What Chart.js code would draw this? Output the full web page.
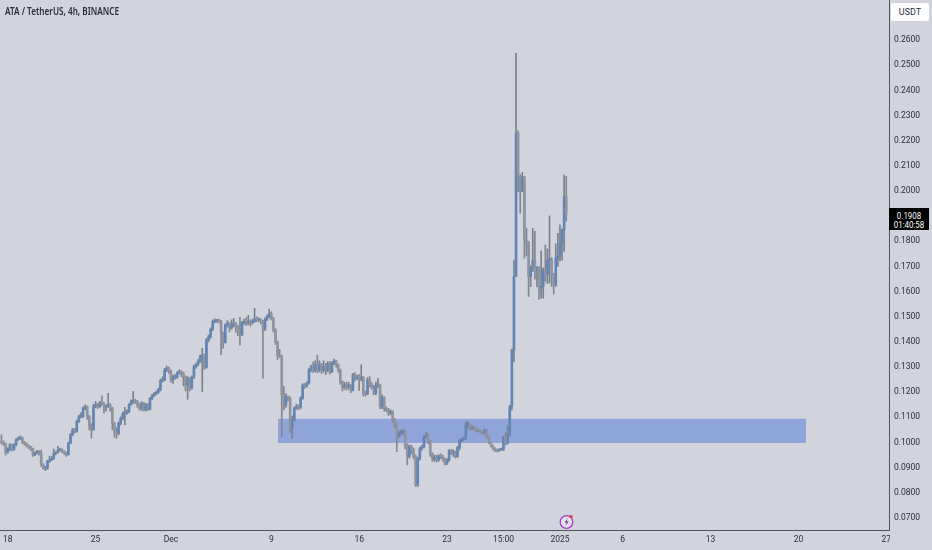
<!DOCTYPE html>
<html>
<head>
<meta charset="utf-8">
<title>ATA / TetherUS</title>
<script src="https://cdn.jsdelivr.net/npm/chart.js@4"></script>
<style>
  html, body { margin: 0; padding: 0; background: #d1d4dc; }
  #wrap { position: relative; width: 932px; height: 550px; overflow: hidden; font-family: Roboto, sans-serif; color: #131722; }
  #wrap div { position: absolute; white-space: nowrap; }
  #title { left: 5px; top: 4px; font-family: "Noto Sans", sans-serif; font-size: 10px; font-weight: 600; transform-origin: left top; transform: scaleX(0.82); color: #2a2e39; }
  #unit { left: 891px; top: 3px; width: 38px; height: 18px; line-height: 18px; background: #fff; border-radius: 2px; text-align: center; font-size: 9px; color: #2a2e39; }
  #tag { left: 889px; top: 208px; width: 40px; height: 22px; background: #000; color: #fff; }
  #tag div { left: 0; width: 40px; font-size: 9.5px; line-height: 9px; text-align: center; transform: scaleX(0.83); }
  #corner { left: 890px; top: 531px; width: 42px; height: 19px; background: #d1d4dc; }
  #bolt { position: absolute; left: 558px; top: 513px; }
</style>
</head>
<body>
<div id="wrap">
  <canvas id="chart" width="932" height="550"></canvas>
  <div id="corner"></div>
  <div id="title">ATA / TetherUS, 4h, BINANCE</div>
  <div id="unit">USDT</div>
  <div id="tag"><div style="top:2.5px">0.1908</div><div style="top:11.5px">01:40:58</div></div>
  <svg id="bolt" width="18" height="18" viewBox="0 0 18 18">
    <circle cx="8.5" cy="9" r="6.3" fill="#e4e0ea" stroke="#a93cc4" stroke-width="1.3"/>
    <path d="M9.6 5.2 L6.6 9.4 L8.5 9.4 L7.5 12.8 L10.6 8.4 L8.6 8.4 Z" fill="#7b2c8f"/>
    <circle cx="13" cy="3.6" r="1.7" fill="#f23645"/>
  </svg>
</div>
<script>
// 4h candles, first one sits three bars left of Nov 18
const firstIndex = -3;
const firstOpen = 0.1005;

const closes = [
  .1000, .0995, .0960, .0974, .0991, .0971, .0991, .1011, .1017, .1020,
  .1000, .0995, .0987, .0982, .0974, .0951, .0958, .0964, .0958, .0911,
  .0898, .0898, .0925, .0931, .0938, .0958, .0960, .0971, .0971, .0964,
  .0958, .0951, .0998, .1031, .1051, .1044, .1084, .1103, .1103, .1137,
  .1143, .1103, .1070, .1051, .1143, .1150, .1143, .1157, .1154, .1141,
  .1143, .1150, .1137, .1077, .1044, .1037, .1077, .1097, .1117, .1117,
  .1123, .1150, .1163, .1166, .1163, .1150, .1133, .1157, .1130, .1150,
  .1133, .1176, .1186, .1194, .1199, .1210, .1247, .1249, .1289, .1296,
  .1282, .1249, .1260, .1260, .1276, .1282, .1276, .1260, .1229, .1256,
  .1216, .1260, .1302, .1309, .1322, .1342, .1349, .1299, .1408, .1421,
  .1451, .1481, .1485, .1485, .1481, .1435, .1398, .1468, .1475, .1455,
  .1468, .1475, .1461, .1448, .1428, .1475, .1481, .1475, .1481, .1477,
  .1481, .1494, .1488, .1488, .1481, .1451, .1490, .1501, .1512, .1494,
  .1448, .1400, .1345, .1342, .1189, .1150, .1183, .1176, .1057, .1090,
  .1136, .1143, .1140, .1176, .1229, .1225, .1236, .1289, .1302, .1286,
  .1309, .1286, .1309, .1286, .1302, .1286, .1315, .1282, .1315, .1325,
  .1309, .1289, .1242, .1220, .1229, .1220, .1229, .1207, .1269, .1256,
  .1260, .1252, .1260, .1196, .1193, .1249, .1229, .1220, .1196, .1225,
  .1229, .1143, .1180, .1136, .1130, .1117, .1123, .1090, .1074, .1024,
  .1037, .1040, .1044, .0991, .0944, .0984, .0973, .0944, .0832, .0938,
  .0977, .0984, .1024, .1030, .1004, .0955, .0934, .0942, .0931, .0947,
  .0944, .0934, .0918, .0931, .0968, .0960, .0964, .0944, .0979, .1008,
  .1011, .1017, .1070, .1070, .1057, .1061, .1057, .1050, .1048, .1044,
  .1040, .1050, .1024, .1000, .0987, .0977, .0971, .0968, .0973, .0973,
  .1021, .0997, .1030, .1143, .1368, .1660, .2230, .2058, .2000, .2058,
  .1806, .1793, .1660, .1693, .1726, .1693, .1693, .1614, .1621, .1687,
  .1667, .1726, .1726, .1667, .1627, .1733, .1740, .1793, .1846, .1978, .1908
];

const highs = [
  .1031, .1006, .0998, .0979, .0996, .0994, .0996, .1016, .1022, .1026,
  .1022, .1004, .0998, .0990, .0985, .0978, .0963, .0969, .0968, .0970,
  .0916, .0906, .0930, .0946, .0944, .0974, .0965, .0985, .0978, .0975,
  .0968, .0962, .1002, .1036, .1056, .1056, .1090, .1110, .1118, .1142,
  .1150, .1146, .1108, .1075, .1152, .1163, .1156, .1164, .1186, .1160,
  .1150, .1196, .1155, .1140, .1080, .1060, .1082, .1102, .1122, .1140,
  .1130, .1155, .1170, .1203, .1172, .1168, .1155, .1162, .1160, .1156,
  .1155, .1180, .1192, .1199, .1205, .1216, .1252, .1262, .1295, .1304,
  .1300, .1288, .1268, .1270, .1282, .1290, .1286, .1280, .1265, .1262,
  .1258, .1265, .1308, .1316, .1330, .1348, .1375, .1352, .1414, .1428,
  .1456, .1488, .1492, .1490, .1490, .1486, .1440, .1472, .1485, .1478,
  .1488, .1494, .1478, .1466, .1498, .1482, .1490, .1497, .1506, .1488,
  .1490, .1534, .1500, .1496, .1492, .1486, .1496, .1508, .1530, .1520,
  .1497, .1452, .1404, .1370, .1348, .1222, .1195, .1186, .1182, .1106,
  .1142, .1152, .1150, .1182, .1234, .1235, .1242, .1294, .1308, .1320,
  .1325, .1348, .1325, .1315, .1325, .1315, .1322, .1322, .1322, .1332,
  .1328, .1312, .1292, .1245, .1240, .1240, .1240, .1230, .1275, .1278,
  .1268, .1270, .1309, .1262, .1205, .1258, .1262, .1238, .1228, .1240,
  .1255, .1232, .1190, .1182, .1142, .1135, .1130, .1126, .1095, .1078,
  .1045, .1048, .1052, .1048, .0995, .0990, .0990, .0978, .0950, .0942,
  .0982, .0990, .1028, .1040, .1036, .1008, .0960, .0950, .0950, .0952,
  .0955, .0950, .0938, .0936, .0972, .0972, .0972, .0966, .0985, .1012,
  .1016, .1022, .1082, .1084, .1074, .1066, .1064, .1060, .1054, .1050,
  .1046, .1054, .1052, .1026, .1002, .0990, .0980, .0974, .0976, .0978,
  .1026, .1040, .1066, .1148, .1372, .1726, .2548, .2240, .2065, .2075,
  .2045, .1852, .1800, .1704, .1852, .1840, .1700, .1700, .1762, .1695,
  .1786, .1770, .1901, .1735, .1672, .1790, .1832, .1866, .1850, .2064, .2058
];

const lows = [
  .0994, .0988, .0950, .0958, .0968, .0966, .0970, .0986, .1008, .1012,
  .0996, .0990, .0982, .0976, .0968, .0945, .0948, .0955, .0950, .0905,
  .0893, .0888, .0893, .0920, .0928, .0932, .0952, .0958, .0966, .0960,
  .0952, .0945, .0950, .0995, .1026, .1038, .1040, .1080, .1098, .1100,
  .1130, .1092, .1050, .1017, .1048, .1138, .1135, .1138, .1148, .1118,
  .1125, .1140, .1125, .1050, .1020, .1017, .1030, .1070, .1090, .1070,
  .1112, .1118, .1148, .1155, .1155, .1140, .1128, .1128, .1125, .1125,
  .1128, .1130, .1170, .1182, .1190, .1195, .1205, .1240, .1245, .1282,
  .1275, .1240, .1235, .1252, .1255, .1272, .1262, .1225, .1205, .1172,
  .1205, .1212, .1255, .1296, .1305, .1318, .1203, .1290, .1295, .1400,
  .1415, .1445, .1476, .1478, .1475, .1349, .1375, .1395, .1460, .1440,
  .1450, .1460, .1438, .1425, .1388, .1425, .1470, .1465, .1468, .1462,
  .1470, .1478, .1480, .1480, .1472, .1256, .1445, .1485, .1495, .1488,
  .1440, .1390, .1330, .1338, .1024, .1130, .1140, .1165, .1040, .1017,
  .1085, .1132, .1130, .1135, .1172, .1215, .1220, .1232, .1282, .1278,
  .1280, .1278, .1280, .1275, .1280, .1270, .1280, .1272, .1278, .1310,
  .1300, .1280, .1232, .1205, .1212, .1208, .1212, .1198, .1205, .1245,
  .1250, .1207, .1245, .1185, .1185, .1190, .1220, .1212, .1190, .1190,
  .1218, .1135, .1135, .1125, .1122, .1108, .1110, .1080, .1060, .0964,
  .1020, .1030, .1032, .0975, .0911, .0938, .0955, .0935, .0825, .0825,
  .0930, .0970, .0978, .1018, .0995, .0945, .0925, .0925, .0922, .0925,
  .0935, .0925, .0910, .0912, .0925, .0952, .0945, .0938, .0940, .0970,
  .1002, .1008, .1012, .1055, .1050, .1050, .1050, .1042, .1042, .1038,
  .1032, .1034, .1018, .0995, .0982, .0970, .0964, .0962, .0964, .0968,
  .0968, .0990, .0994, .1025, .1130, .1322, .1660, .1997, .1912, .1997,
  .1733, .1742, .1581, .1620, .1680, .1650, .1620, .1570, .1574, .1574,
  .1640, .1632, .1634, .1620, .1590, .1620, .1700, .1722, .1725, .1760, .1880
];

// axis labels, value on x is the candle number
const dateTicks = [0, 42, 78, 126, 168, 210, 237, 264, 294, 336, 378, 420];
const dateLabels = ['18', '25', 'Dec', '9', '16', '23', '15:00', '2025', '6', '13', '20', '27'];
const priceTicks = [0.07, 0.08, 0.09, 0.10, 0.11, 0.12, 0.13, 0.14, 0.15, 0.16, 0.17, 0.18, 0.20, 0.21, 0.22, 0.23, 0.24, 0.25, 0.26];

// demand zone
const zoneX = [129.2, 381.7];
const zoneTop = [0.1094, 0.1094];
const zoneBottom = [0.0998, 0.0998];

const opens = closes.map((c, i) => i === 0 ? firstOpen : closes[i - 1]);
const xs = closes.map((c, i) => firstIndex + i);
const bodyColors = closes.map((c, i) => c >= opens[i] ? '#6285b5' : '#90949e');
const wickColors = closes.map((c, i) => c >= opens[i] ? '#79808f' : '#82868f');

// the axes keep no margin for their outer labels
function noMargins(scale) {
  scale.paddingTop = 0;
  scale.paddingBottom = 0;
  scale.paddingLeft = 0;
  scale.paddingRight = 0;
}

const ctx = document.getElementById('chart');

new Chart(ctx, {
  data: {
    datasets: [
      {
        type: 'bar',
        order: 1,
        data: xs.map((x, i) => ({ x: x, y: [opens[i], closes[i]] })),
        backgroundColor: bodyColors,
        barThickness: 2,
        minBarLength: 1
      },
      {
        type: 'bar',
        order: 2,
        data: xs.map((x, i) => ({ x: x, y: [lows[i], highs[i]] })),
        backgroundColor: wickColors,
        barThickness: 1
      },
      {
        type: 'line',
        order: 3,
        data: zoneX.map((x, i) => ({ x: x, y: zoneTop[i] })),
        borderWidth: 0,
        pointRadius: 0,
        fill: '+1',
        backgroundColor: '#8fa5da'
      },
      {
        type: 'line',
        order: 4,
        data: zoneX.map((x, i) => ({ x: x, y: zoneBottom[i] })),
        borderWidth: 0,
        pointRadius: 0
      }
    ]
  },
  options: {
    responsive: false,
    animation: false,
    grouped: false,
    scales: {
      x: {
        type: 'linear',
        offset: false,
        min: -3.7,
        max: 421.3,
        afterFit: (scale) => { scale.height = 20; noMargins(scale); },
        afterBuildTicks: (scale) => { scale.ticks = dateTicks.map(v => ({ value: v })); },
        grid: { display: false, offset: false, drawTicks: false },
        border: { display: true, color: '#50535e', width: 1 },
        ticks: {
          autoSkip: false,
          maxRotation: 0,
          padding: 5,
          color: '#2a2e39',
          font: { family: 'Roboto, sans-serif', size: 8.5 },
          callback: (v) => dateLabels[dateTicks.indexOf(v)]
        }
      },
      y: {
        position: 'right',
        min: 0.0652,
        max: 0.2760,
        afterFit: (scale) => { scale.width = 43; noMargins(scale); },
        afterBuildTicks: (scale) => { scale.ticks = priceTicks.map(v => ({ value: v })); },
        grid: { display: false, drawTicks: false },
        border: { display: true, color: '#50535e', width: 1 },
        ticks: {
          padding: 5,
          color: '#2a2e39',
          font: { family: 'Roboto, sans-serif', size: 8.5 },
          callback: (v) => v.toFixed(4)
        }
      }
    },
    plugins: {
      legend: { display: false },
      tooltip: { enabled: false },
      title: { display: false }
    }
  }
});
</script>
</body>
</html>
